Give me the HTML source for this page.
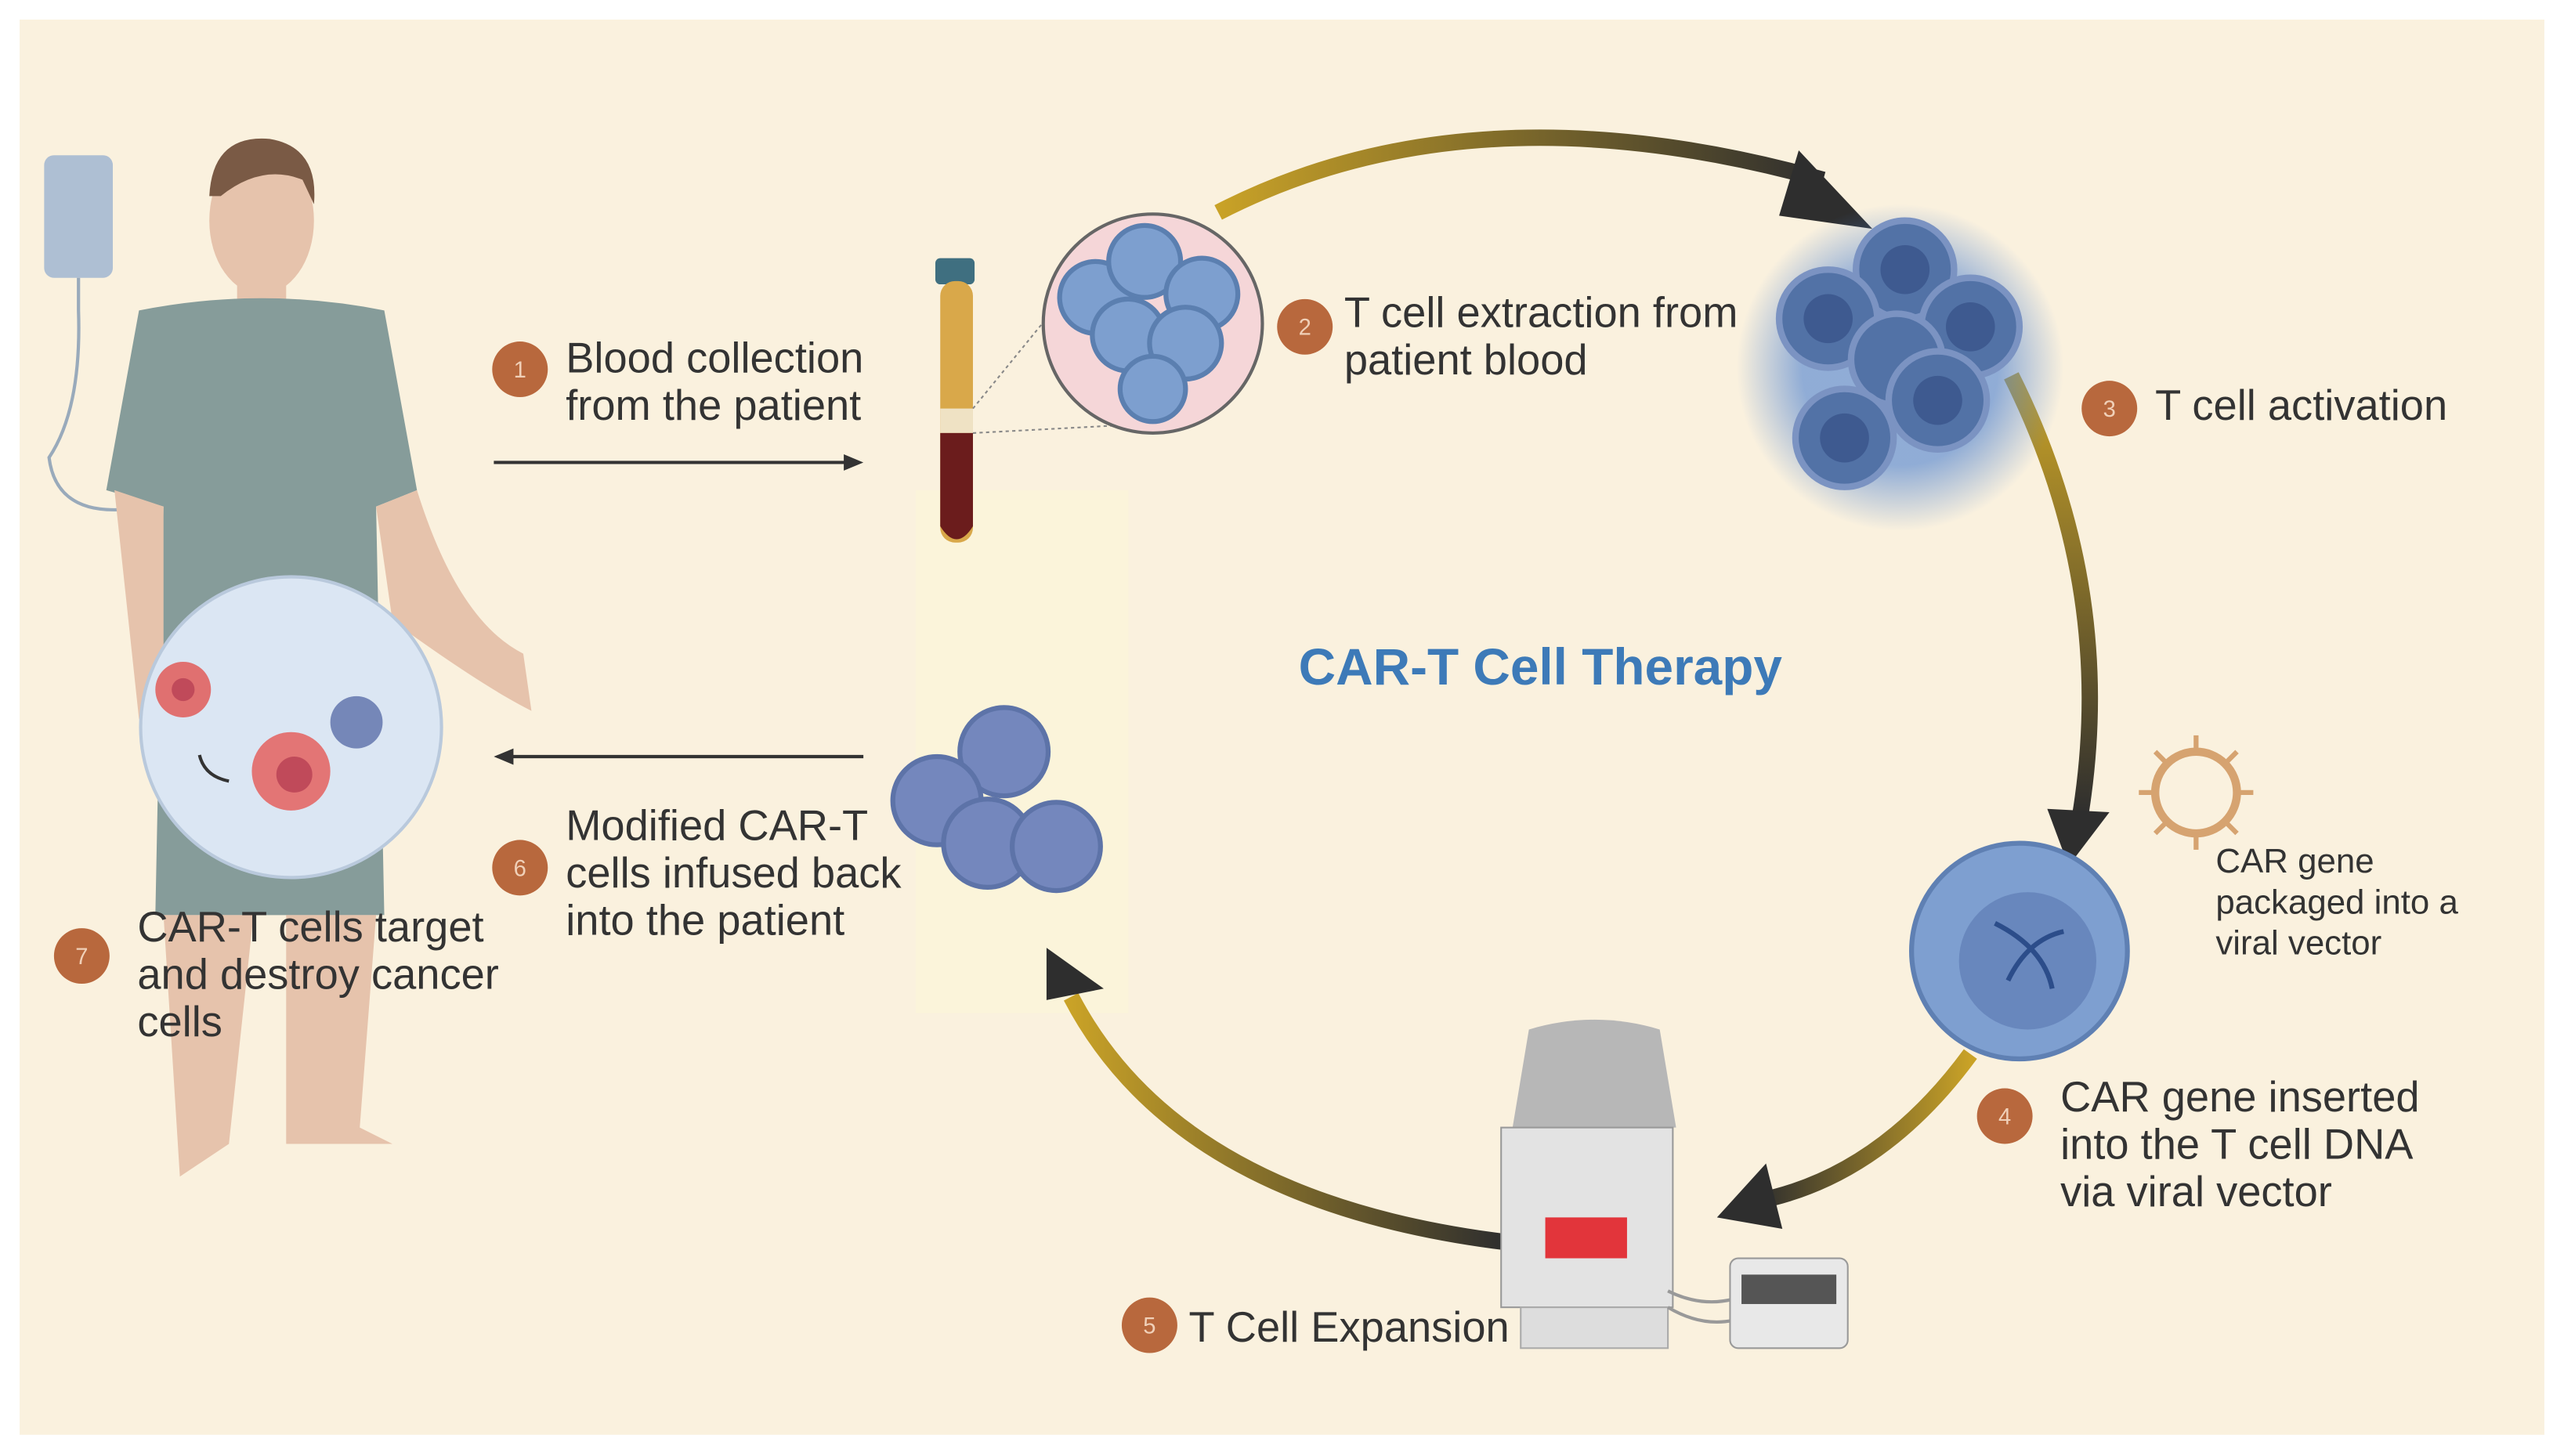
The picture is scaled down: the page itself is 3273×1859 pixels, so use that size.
<!DOCTYPE html>
<html><head><meta charset="utf-8"><style>
html,body{margin:0;padding:0;background:#fff;}
svg{display:block;}
text{font-family:"Liberation Sans",sans-serif;}
</style></head><body>
<svg width="3273" height="1859" viewBox="0 0 1568 891" preserveAspectRatio="none" xmlns="http://www.w3.org/2000/svg">
<defs>
<linearGradient id="g1" x1="0" y1="0" x2="1" y2="0"><stop offset="0" stop-color="#c9a227"/><stop offset="1" stop-color="#2e2e2e"/></linearGradient>
<linearGradient id="g2" x1="0" y1="0" x2="0" y2="1"><stop offset="0" stop-color="#c9a227"/><stop offset="1" stop-color="#2e2e2e"/></linearGradient>
<linearGradient id="g3" x1="1" y1="0" x2="0" y2="0"><stop offset="0" stop-color="#c9a227"/><stop offset="1" stop-color="#2e2e2e"/></linearGradient>
<radialGradient id="glow"><stop offset="0.6" stop-color="#4a7fd0" stop-opacity="0.6"/><stop offset="1" stop-color="#4a7fd0" stop-opacity="0"/></radialGradient>
</defs>
<rect width="1568" height="891" fill="#fff"/>
<rect x="12" y="12" width="1544" height="866" fill="#faf1de"/>
<rect x="560" y="300" width="130" height="320" fill="#fbf5d8" opacity="0.7"/>

<!-- cycle arcs -->
<path d="M745 130 Q900 50 1115 110" fill="none" stroke="url(#g1)" stroke-width="10"/>
<polygon points="1100,92 1145,140 1088,132" fill="#2e2e2e"/>
<path d="M1230 230 Q1295 360 1272 500" fill="none" stroke="url(#g2)" stroke-width="10"/>
<polygon points="1252,495 1290,497 1265,530" fill="#2e2e2e"/>
<path d="M1205 645 Q1150 720 1075 735" fill="none" stroke="url(#g3)" stroke-width="10"/>
<polygon points="1080,712 1090,752 1050,745" fill="#2e2e2e"/>
<path d="M920 760 Q720 735 655 610" fill="none" stroke="url(#g1)" stroke-width="10"/>
<polygon points="640,580 675,605 640,612" fill="#2e2e2e"/>

<!-- person -->
<rect x="27" y="95" width="42" height="75" rx="6" fill="#aebfd3"/>
<path d="M48 170 L48 190 Q50 250 30 280 Q35 320 90 310" fill="none" stroke="#9ab" stroke-width="2"/>
<ellipse cx="160" cy="135" rx="32" ry="45" fill="#e6c3ac"/>
<path d="M128 120 Q130 82 165 85 Q195 90 192 125 L185 110 Q160 100 135 120Z" fill="#7a5a45"/>
<rect x="145" y="170" width="30" height="25" fill="#e6c3ac"/>
<path d="M85 190 Q160 175 235 190 L255 300 L230 310 L235 560 L95 560 L100 310 L65 300Z" fill="#869c9a"/>
<path d="M70 300 L100 310 L100 430 L85 440Z M230 310 L255 300 Q280 380 320 400 L325 435 Q295 420 240 380Z" fill="#e6c3ac"/>
<path d="M100 560 L155 560 L140 700 L110 720Z M175 560 L230 560 L220 690 L240 700 L175 700Z" fill="#e6c3ac"/>
<circle cx="178" cy="445" r="92" fill="#dbe6f3" stroke="#b9c9dc" stroke-width="2"/>
<circle cx="112" cy="422" r="17" fill="#e07070"/><circle cx="112" cy="422" r="7" fill="#c04a5a"/>
<circle cx="178" cy="472" r="24" fill="#e37575"/><circle cx="180" cy="474" r="11" fill="#c04a5a"/>
<circle cx="218" cy="442" r="16" fill="#7587b8"/>
<path d="M140 478 Q125 475 122 462" fill="none" stroke="#333" stroke-width="2"/>

<!-- arrows -->
<line x1="302" y1="283" x2="520" y2="283" stroke="#333" stroke-width="2"/><polygon points="528,283 516,278 516,288" fill="#333"/>
<line x1="528" y1="463" x2="312" y2="463" stroke="#333" stroke-width="2"/><polygon points="302,463 314,458 314,468" fill="#333"/>

<!-- tube -->
<rect x="572" y="158" width="24" height="16" rx="3" fill="#3f6f80"/>
<rect x="575" y="172" width="20" height="160" rx="9" fill="#d9a84a"/>
<rect x="575" y="250" width="20" height="15" fill="#efe2c4"/>
<path d="M575 265 L595 265 L595 322 Q585 338 575 322Z" fill="#6b1c1c"/>
<line x1="595" y1="250" x2="648" y2="185" stroke="#888" stroke-width="1" stroke-dasharray="2 2"/>
<line x1="595" y1="265" x2="690" y2="260" stroke="#888" stroke-width="1" stroke-dasharray="2 2"/>
<circle cx="705" cy="198" r="67" fill="#f5d6d8" stroke="#666" stroke-width="2"/>
<g fill="#7d9fcf" stroke="#5b7fb0" stroke-width="3">
<circle cx="670" cy="182" r="22"/><circle cx="700" cy="160" r="22"/><circle cx="735" cy="180" r="22"/><circle cx="690" cy="205" r="22"/><circle cx="725" cy="210" r="22"/><circle cx="705" cy="238" r="20"/></g>

<!-- activation -->
<circle cx="1162" cy="225" r="100" fill="url(#glow)"/>
<g fill="#5272a6" stroke="#7b93c2" stroke-width="4">
<circle cx="1165" cy="165" r="30"/><circle cx="1118" cy="195" r="30"/><circle cx="1205" cy="200" r="30"/><circle cx="1160" cy="220" r="28"/><circle cx="1185" cy="245" r="30"/><circle cx="1128" cy="268" r="30"/></g>
<g fill="#3e5a90"><circle cx="1165" cy="165" r="15"/><circle cx="1118" cy="195" r="15"/><circle cx="1205" cy="200" r="15"/><circle cx="1185" cy="245" r="15"/><circle cx="1128" cy="268" r="15"/></g>

<!-- virus -->
<circle cx="1343" cy="485" r="25" fill="none" stroke="#d6a370" stroke-width="5"/>
<g stroke="#d6a370" stroke-width="3"><line x1="1343" y1="450" x2="1343" y2="460"/><line x1="1343" y1="510" x2="1343" y2="520"/><line x1="1308" y1="485" x2="1318" y2="485"/><line x1="1368" y1="485" x2="1378" y2="485"/><line x1="1318" y1="460" x2="1325" y2="467"/><line x1="1368" y1="460" x2="1361" y2="467"/><line x1="1318" y1="510" x2="1325" y2="503"/><line x1="1368" y1="510" x2="1361" y2="503"/></g>

<!-- CAR T cell -->
<circle cx="1235" cy="582" r="66" fill="#7e9fd0" stroke="#5f80b3" stroke-width="3"/>
<circle cx="1240" cy="588" r="42" fill="#6887bd"/>
<path d="M1220 565 Q1250 580 1255 605 M1228 600 Q1240 575 1262 570" stroke="#2c4d8a" stroke-width="3" fill="none"/>

<!-- bioreactor -->
<path d="M925 690 L935 630 Q975 618 1015 630 L1025 690Z" fill="#b7b7b7"/>
<rect x="918" y="690" width="105" height="110" fill="#e3e3e3" stroke="#999"/>
<rect x="945" y="745" width="50" height="25" fill="#e2353b"/>
<rect x="930" y="800" width="90" height="25" fill="#ddd" stroke="#aaa"/>
<path d="M1020 790 Q1040 800 1060 795 M1020 800 Q1040 812 1060 808" stroke="#999" stroke-width="2" fill="none"/>
<rect x="1058" y="770" width="72" height="55" rx="5" fill="#e8e8e8" stroke="#999"/>
<rect x="1065" y="780" width="58" height="18" fill="#555"/>

<!-- infused cells -->
<g fill="#7487bd" stroke="#5d73a8" stroke-width="3"><circle cx="614" cy="460" r="27"/><circle cx="573" cy="490" r="27"/><circle cx="604" cy="516" r="27"/><circle cx="646" cy="518" r="27"/></g>

<!-- badges -->
<g fill="#b8683d">
<circle cx="318" cy="226" r="17"/><circle cx="798" cy="200" r="17"/><circle cx="1290" cy="250" r="17"/><circle cx="1226" cy="683" r="17"/><circle cx="703" cy="811" r="17"/><circle cx="318" cy="531" r="17"/><circle cx="50" cy="585" r="17"/></g>
<g fill="#f0d0b8" font-size="14" text-anchor="middle">
<text x="318" y="231">1</text><text x="798" y="205">2</text><text x="1290" y="255">3</text><text x="1226" y="688">4</text><text x="703" y="816">5</text><text x="318" y="536">6</text><text x="50" y="590">7</text></g>

<g fill="#333" font-size="26">
<text x="346" y="228">Blood collection</text><text x="346" y="257">from the patient</text>
<text x="822" y="200">T cell extraction from</text><text x="822" y="229">patient blood</text>
<text x="1318" y="257">T cell activation</text>
<text x="1260" y="680">CAR gene inserted</text><text x="1260" y="709">into the T cell DNA</text><text x="1260" y="738">via viral vector</text>
<text x="727" y="821">T Cell Expansion</text>
<text x="346" y="514">Modified CAR-T</text><text x="346" y="543">cells infused back</text><text x="346" y="572">into the patient</text>
<text x="84" y="576">CAR-T cells target</text><text x="84" y="605">and destroy cancer</text><text x="84" y="634">cells</text>
</g>
<g fill="#333" font-size="21">
<text x="1355" y="534">CAR gene</text><text x="1355" y="559">packaged into a</text><text x="1355" y="584">viral vector</text></g>
<text x="942" y="419" font-size="31.5" font-weight="bold" fill="#3d7ab8" text-anchor="middle">CAR-T Cell Therapy</text>
</svg>
</body></html>
